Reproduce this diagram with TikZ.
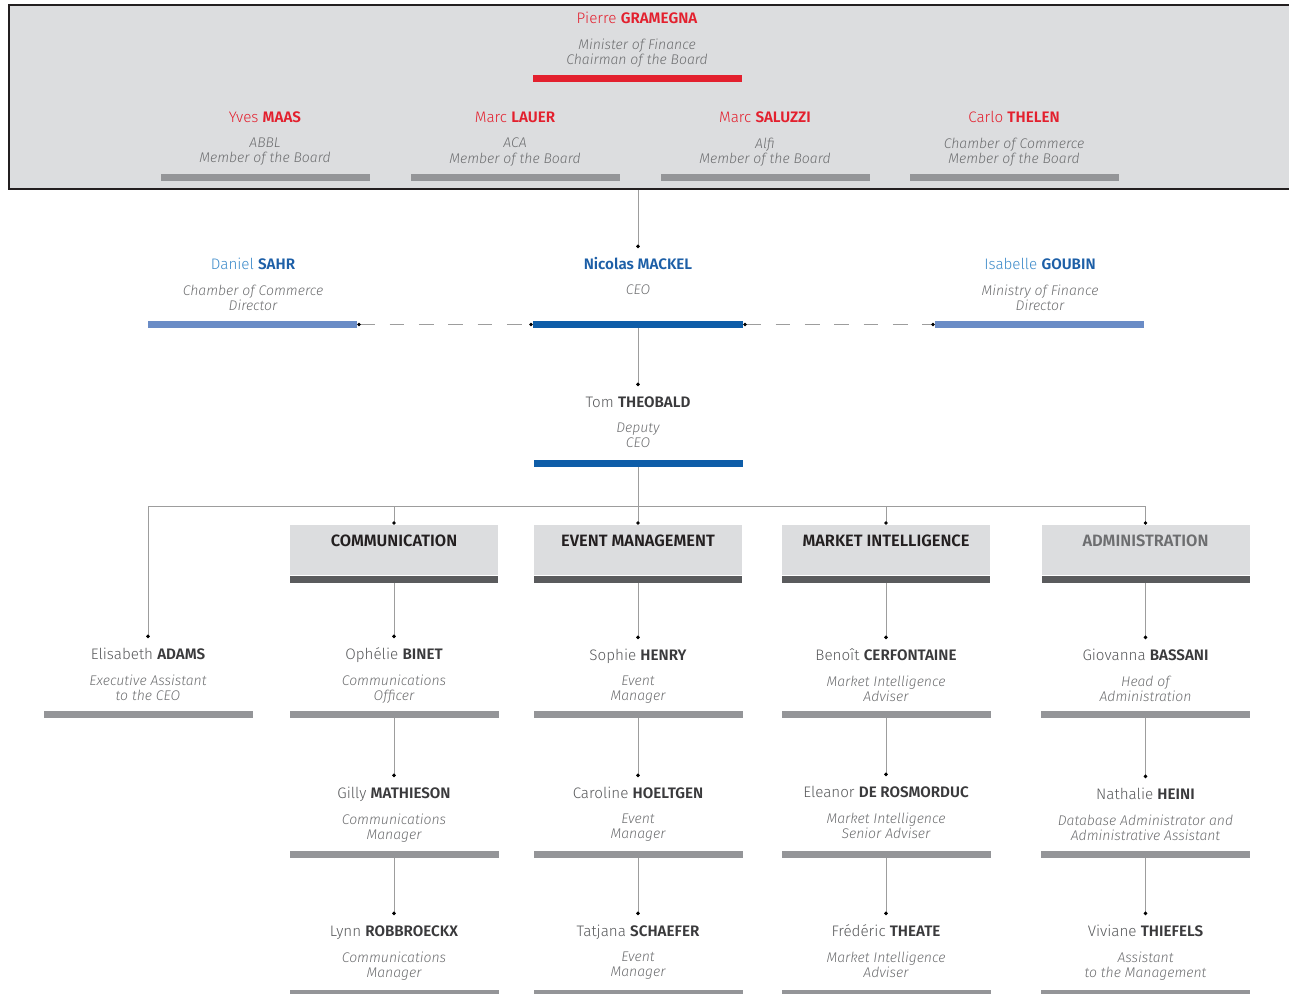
\documentclass[tikz,border=0pt]{standalone}
\usepackage{fontspec}
\setmainfont{Fira Sans}[UprightFont=* Light, ItalicFont=* Light Italic, BoldFont=* SemiBold, BoldItalicFont=* SemiBold Italic]
\usepackage{xcolor}
\usetikzlibrary{positioning, arrows.meta}

\definecolor{boardfill}{HTML}{DCDDDF}
\definecolor{boardline}{HTML}{231F20}
\definecolor{finred}{HTML}{E3202E}
\definecolor{bargray}{HTML}{949598}
\definecolor{ceoblue}{HTML}{0E5DA8}
\definecolor{sideblue}{HTML}{6A8CC6}
\definecolor{bluelight}{HTML}{3C8AC9}
\definecolor{bluedark}{HTML}{1D5FA7}
\definecolor{linegray}{HTML}{9D9D9D}
\definecolor{namegray}{HTML}{58595B}
\definecolor{surgray}{HTML}{3A3A3C}
\definecolor{rolegray}{HTML}{6D6E70}
\definecolor{deptdark}{HTML}{5A5B5D}
\definecolor{deptink}{HTML}{231F20}

\newcommand{\sur}[1]{\textbf{\color{surgray}#1}}

\begin{document}
\begin{tikzpicture}[x=0.75pt, y=-0.75pt, node distance=8.5pt,
    pname/.style={font=\fontsize{11.4}{13}\selectfont, text=namegray, inner sep=0pt, text height=8pt, text depth=2.5pt},
    prole/.style={font=\fontsize{10.5}{11.6}\selectfont\itshape, text=rolegray, align=center, inner sep=0pt},
    pbar/.style={fill=bargray, minimum width=156.75pt, minimum height=5.4pt, inner sep=0pt},
    dept/.style={fill=boardfill, minimum width=156pt, minimum height=37.5pt, inner sep=0pt, font=\fontsize{12.3}{14}\selectfont\bfseries, text=deptink, text height=8.5pt, text depth=13.6pt},
    deptbar/.style={fill=deptdark, minimum width=156pt, minimum height=5.4pt, inner sep=0pt},
    line/.style={draw=linegray, line width=0.75pt},
    link/.style={line, arrows={-Circle[length=2.6pt, color=black]}, shorten >=8pt},
    deptlink/.style={line, arrows={-Circle[length=2.6pt, color=black]}},
    dashline/.style={line, dash pattern=on 11pt off 11pt, arrows={Circle[length=2.6pt, color=black]-Circle[length=2.6pt, color=black]}}]
    \useasboundingbox (0,0) rectangle (1289,994);

    % Board
    \node[fill=boardfill, draw=boardline, line width=1.5pt, minimum width=965pt, minimum height=138pt, inner sep=0pt] (board) at (652.5,97) {};
    \node[pname, text=finred] (gramegna) at (637,20) {Pierre \textbf{GRAMEGNA}};
    \node[prole, below=of gramegna] (gramegnarole) {Minister of Finance\\Chairman of the Board};
    \node[pbar, fill=finred] (gramegnabar) at (637,78.5) {};

    \node[pname, text=finred] (maas) at (265,119) {Yves \textbf{MAAS}};
    \node[prole, below=of maas] (maasrole) {ABBL\\Member of the Board};
    \node[pbar] (maasbar) at (265.5,177.5) {};
    \node[pname, text=finred] (lauer) at (515,119) {Marc \textbf{LAUER}};
    \node[prole, below=of lauer] (lauerrole) {ACA\\Member of the Board};
    \node[pbar] (lauerbar) at (515,177.5) {};
    \node[pname, text=finred] (saluzzi) at (765,119) {Marc \textbf{SALUZZI}};
    \node[prole, below=of saluzzi] (saluzzirole) {Alfi\\Member of the Board};
    \node[pbar] (saluzzibar) at (765,177.5) {};
    \node[pname, text=finred] (thelen) at (1014,119) {Carlo \textbf{THELEN}};
    \node[prole, below=of thelen] (thelenrole) {Chamber of Commerce\\Member of the Board};
    \node[pbar] (thelenbar) at (1014,177.5) {};

    % Management
    \node[pname, text=bluedark] (mackel) at (638,266) {\textbf{Nicolas MACKEL}};
    \node[prole, below=of mackel] (mackelrole) {CEO};
    \node[pbar, fill=ceoblue, minimum width=157.5pt] (mackelbar) at (638,324.5) {};
    \node[pname, text=bluelight] (sahr) at (253,266) {Daniel \textbf{\color{bluedark}SAHR}};
    \node[prole, below=of sahr] (sahrrole) {Chamber of Commerce\\Director};
    \node[pbar, fill=sideblue] (sahrbar) at (252.5,324.5) {};
    \node[pname, text=bluelight] (goubin) at (1040,266) {Isabelle \textbf{\color{bluedark}GOUBIN}};
    \node[prole, below=of goubin] (goubinrole) {Ministry of Finance\\Director};
    \node[pbar, fill=sideblue] (goubinbar) at (1039.5,324.5) {};

    \node[pname] (theobald) at (638,404) {Tom \sur{THEOBALD}};
    \node[prole, below=of theobald] (theobaldrole) {Deputy\\CEO};
    \node[pbar, fill=ceoblue] (theobaldbar) at (638,463.5) {};

    % Departments
    \node[dept] (comm) at (394,550) {COMMUNICATION};
    \node[deptbar, below=0pt of comm] (commbar) {};
    \node[dept] (event) at (638,550) {EVENT MANAGEMENT};
    \node[deptbar, below=0pt of event] (eventbar) {};
    \node[dept] (mi) at (886,550) {MARKET INTELLIGENCE};
    \node[deptbar, below=0pt of mi] (mibar) {};
    \node[dept, text=rolegray] (admin) at (1145.5,550) {ADMINISTRATION};
    \node[deptbar, below=0pt of admin] (adminbar) {};

    % Staff
    \node[pname] (adams) at (148,656) {Elisabeth \sur{ADAMS}};
    \node[prole, below=of adams] (adamsrole) {Executive Assistant\\to the CEO};
    \node[pbar] (adamsbar) at (148.5,714.5) {};

    \node[pname] (binet) at (394,656) {Ophélie \sur{BINET}};
    \node[prole, below=of binet] (binetrole) {Communications\\Officer};
    \node[pbar] (binetbar) at (394,714.5) {};
    \node[pname] (mathieson) at (394,795) {Gilly \sur{MATHIESON}};
    \node[prole, below=of mathieson] (mathiesonrole) {Communications\\Manager};
    \node[pbar] (mathiesonbar) at (394,854.5) {};
    \node[pname] (robbroeckx) at (394,933) {Lynn \sur{ROBBROECKX}};
    \node[prole, below=of robbroeckx] (robbroeckxrole) {Communications\\Manager};
    \node[pbar] (robbroeckxbar) at (394,993.5) {};

    \node[pname] (henry) at (638,657) {Sophie \sur{HENRY}};
    \node[prole, below=of henry] (henryrole) {Event\\Manager};
    \node[pbar] (henrybar) at (638,714.5) {};
    \node[pname] (hoeltgen) at (638,795) {Caroline \sur{HOELTGEN}};
    \node[prole, below=of hoeltgen] (hoeltgenrole) {Event\\Manager};
    \node[pbar] (hoeltgenbar) at (638,854.5) {};
    \node[pname] (schaefer) at (638,933) {Tatjana \sur{SCHAEFER}};
    \node[prole, below=of schaefer] (schaeferrole) {Event\\Manager};
    \node[pbar] (schaeferbar) at (638,993.5) {};

    \node[pname] (cerfontaine) at (886,657) {Benoît \sur{CERFONTAINE}};
    \node[prole, below=of cerfontaine] (cerfontainerole) {Market Intelligence\\Adviser};
    \node[pbar] (cerfontainebar) at (886,714.5) {};
    \node[pname] (rosmorduc) at (886,794) {Eleanor \sur{DE ROSMORDUC}};
    \node[prole, below=of rosmorduc] (rosmorducrole) {Market Intelligence\\Senior Adviser};
    \node[pbar] (rosmorducbar) at (886,854.5) {};
    \node[pname] (theate) at (886,933) {Frédéric \sur{THEATE}};
    \node[prole, below=of theate] (theaterole) {Market Intelligence\\Adviser};
    \node[pbar] (theatebar) at (886,993.5) {};

    \node[pname] (bassani) at (1145.5,657) {Giovanna \sur{BASSANI}};
    \node[prole, below=of bassani] (bassanirole) {Head of\\Administration};
    \node[pbar] (bassanibar) at (1145.5,714.5) {};
    \node[pname] (heini) at (1145.5,796) {Nathalie \sur{HEINI}};
    \node[prole, below=of heini] (heinirole) {Database Administrator and\\Administrative Assistant};
    \node[pbar] (heinibar) at (1145.5,854.5) {};
    \node[pname] (thiefels) at (1145.5,933) {Viviane \sur{THIEFELS}};
    \node[prole, below=of thiefels] (thiefelsrole) {Assistant\\to the Management};
    \node[pbar] (thiefelsbar) at (1145.5,993.5) {};

    % Lines
    \draw[link] (board.south -| mackel) -- (mackel.north);
    \draw[dashline] (sahrbar.east) -- (mackelbar.west);
    \draw[dashline] (mackelbar.east) -- (goubinbar.west);
    \draw[link] (mackelbar.south) -- (theobald.north);

    \coordinate (branch) at (638,507);
    \draw[line] (theobaldbar.south) -- (branch);
    \draw[link] (branch) -| (adams.north);
    \draw[deptlink] (branch) -| (comm.north);
    \draw[deptlink] (branch) -- (event.north);
    \draw[deptlink] (branch) -| (mi.north);
    \draw[deptlink] (branch) -| (admin.north);

    \draw[link] (commbar.south) -- (binet.north);
    \draw[link] (binetbar.south) -- (mathieson.north);
    \draw[link] (mathiesonbar.south) -- (robbroeckx.north);
    \draw[link] (eventbar.south) -- (henry.north);
    \draw[link] (henrybar.south) -- (hoeltgen.north);
    \draw[link] (hoeltgenbar.south) -- (schaefer.north);
    \draw[link] (mibar.south) -- (cerfontaine.north);
    \draw[link] (cerfontainebar.south) -- (rosmorduc.north);
    \draw[link] (rosmorducbar.south) -- (theate.north);
    \draw[link] (adminbar.south) -- (bassani.north);
    \draw[link] (bassanibar.south) -- (heini.north);
    \draw[link] (heinibar.south) -- (thiefels.north);
\end{tikzpicture}
\end{document}
